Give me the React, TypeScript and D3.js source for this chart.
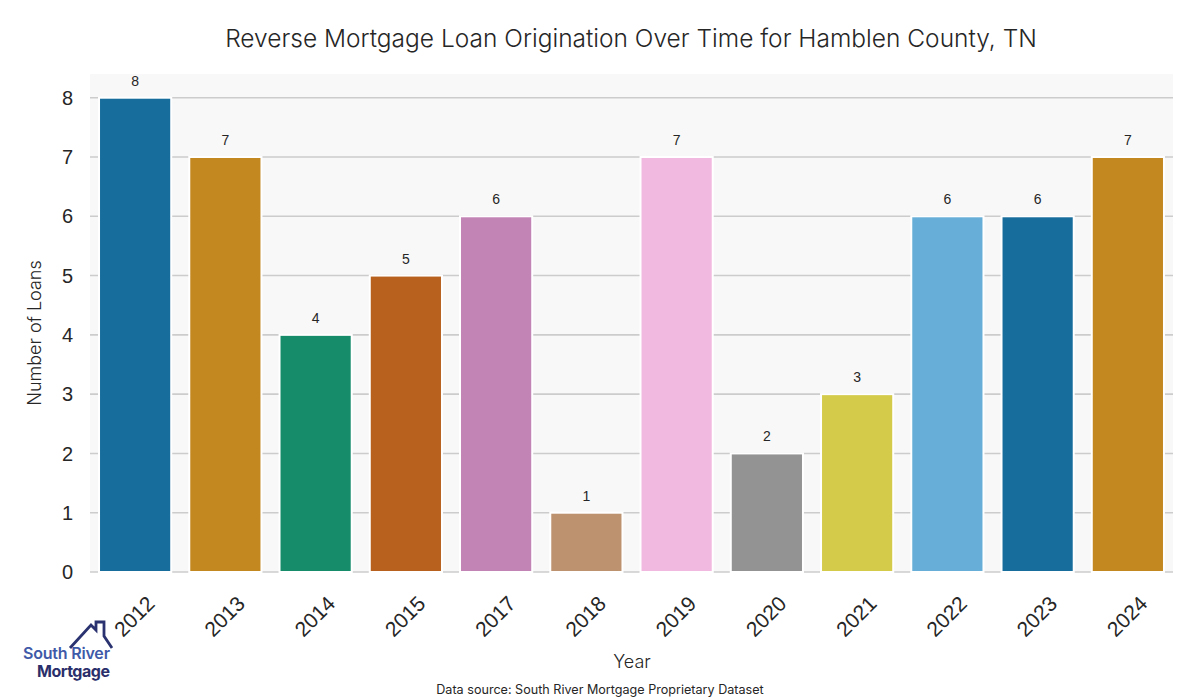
import React from "react";
import * as d3 from "d3";

const years = ["2012", "2013", "2014", "2015", "2017", "2018", "2019", "2020", "2021", "2022", "2023", "2024"];
const loans = [8, 7, 4, 5, 6, 1, 7, 2, 3, 6, 6, 7];
const barColors = ["#176d9c", "#c38820", "#168c6a", "#b8601e", "#c283b5", "#bd926f", "#f1b8e0", "#939393", "#d5cb4b", "#67afd8", "#176d9c", "#c38820"];
const yTicks = [0, 1, 2, 3, 4, 5, 6, 7, 8];

const W = 1200, H = 700;
const left = 90, right = 1173, top = 74, bottom = 572;

export default function App() {
  const x = d3.scaleBand<string>().domain(years).range([left, right]).paddingInner(0).paddingOuter(0);
  const y = d3.scaleLinear().domain([0, 8.4]).range([bottom, top]);
  const bw = x.bandwidth() * 0.8;
  const num = "'Liberation Sans', Arial, sans-serif";
  const txt = "Inter, 'Noto Sans', sans-serif";
  return (
    <svg width={W} height={H} style={{ position: "absolute", left: 0, top: 0, background: "#fff" }}>
      <rect x={left} y={top} width={right - left} height={bottom - top} fill="#f8f8f8" />
      {yTicks.map((t) => (
        <g key={t}>
          <line x1={left} x2={right} y1={y(t)} y2={y(t)} stroke="#cccccc" strokeWidth={1.6} />
          <text x={73} y={y(t)} dy="0.36em" textAnchor="end" fontFamily={num} fontSize={20} fill="#262626">{t}</text>
        </g>
      ))}
      {years.map((yr, i) => {
        const cx = x(yr)! + x.bandwidth() / 2;
        return (
          <g key={yr}>
            <rect x={cx - bw / 2} y={y(loans[i])} width={bw} height={y(0) - y(loans[i])} fill={barColors[i]} stroke="#ffffff" strokeWidth={2} />
            <text x={cx} y={y(loans[i]) - 12} textAnchor="middle" fontFamily={num} fontSize={14} fill="#262626">{loans[i]}</text>
            <text transform={`translate(${cx + 21},${bottom + 33}) rotate(-45)`} textAnchor="end" fontFamily={num} fontSize={21} fill="#262626">{yr}</text>
          </g>
        );
      })}
      <text x={631} y={47} textAnchor="middle" fontFamily={txt} fontSize={24.5} fontWeight={300} fill="#262626">Reverse Mortgage Loan Origination Over Time for Hamblen County, TN</text>
      <text transform={`translate(41,${(top + bottom) / 2 + 10}) rotate(-90)`} textAnchor="middle" fontFamily={txt} fontSize={18} fontWeight={300} fill="#262626">Number of Loans</text>
      <text x={632} y={668} textAnchor="middle" fontFamily={txt} fontSize={18} fontWeight={300} fill="#262626">Year</text>
      <text x={600} y={694} textAnchor="middle" fontFamily={txt} fontSize={12.6} fill="#262626">Data source: South River Mortgage Proprietary Dataset</text>
      <g>
        <polyline points="70,648 91,625 96,630 96,622 104,622 104,636 112,648" fill="none" stroke="#2a3370" strokeWidth={2.8} strokeLinejoin="miter" />
        <text x={23} y={659} fontFamily={txt} fontSize={16} fontWeight={600} fill="#3f5aa8" textLength={87}>South River</text>
        <text x={37} y={677} fontFamily={txt} fontSize={16} fontWeight={700} fill="#2a2f6b" textLength={73}>Mortgage</text>
      </g>
    </svg>
  );
}
